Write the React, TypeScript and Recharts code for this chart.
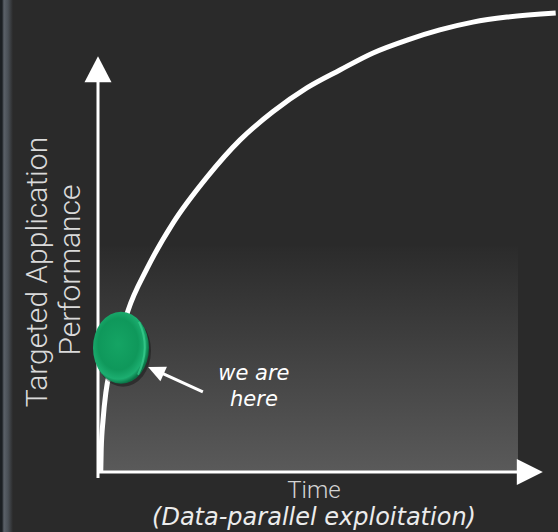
import { LineChart, Line, XAxis, YAxis, ReferenceLine, ReferenceDot, ReferenceArea } from 'recharts';

// time (x) and targeted application performance (y), both on a 0-100 scale
const timeValues = [0.6, 0.7, 1.1, 1.7, 4.1, 6.5, 10.7, 16.3, 23.7, 30.9, 38.0, 45.4, 52.6, 59.8, 67.2, 74.3, 81.5, 88.9, 99.5];
const perfValues = [0, 5, 11.3, 17.2, 26.5, 35.0, 44.3, 54.1, 64.1, 72.2, 78.3, 83.5, 87.4, 91.1, 93.9, 96.1, 97.8, 98.9, 99.8];

// "we are here" marker
const herePoint = { t: 5.0, perf: 27.0 };
const hereArrowTail = { t: 22.8, perf: 17.4 };
const hereArrowTip = { t: 10.9, perf: 22.8 };
const hereText = { t: 33.9, perf: 20.0 };
const hereLines = ['we are', 'here'];

const yLabelLines = ['Targeted Application', 'Performance'];
const xLabelLines = ['Time', '(Data-parallel exploitation)'];

// axis extents
const yAxisTop = 84.8;
const yArrowTip = 90.4;
const xAxisEnd = 91.1;
const xArrowTip = 96.7;
const shadeRight = 91.3;
const shadeTop = 49;

const data = timeValues.map((t, i) => ({ t, perf: perfValues[i] }));

const App = () => {
  const upArrow = (p: any) => (
    <polygon points={`${p.cx},${p.cy} ${p.cx - 13.5},${p.cy + 26} ${p.cx + 13.5},${p.cy + 26}`} fill="#ffffff" />
  );
  const rightArrow = (p: any) => (
    <polygon points={`${p.cx},${p.cy} ${p.cx - 26},${p.cy - 13} ${p.cx - 26},${p.cy + 13}`} fill="#ffffff" />
  );
  const smallArrow = (p: any) => (
    <polygon
      points={`${p.cx},${p.cy} ${p.cx - 17},${p.cy - 8} ${p.cx - 17},${p.cy + 8}`}
      fill="#ffffff"
      transform={`rotate(204 ${p.cx} ${p.cy})`}
    />
  );
  const greenDot = (p: any) => (
    <g>
      <defs>
        <radialGradient id="dotGrad" cx="45%" cy="45%" r="55%">
          <stop offset="0%" stopColor="#15a464" />
          <stop offset="65%" stopColor="#0f985b" />
          <stop offset="88%" stopColor="#1cae70" />
          <stop offset="100%" stopColor="#0a7446" />
        </radialGradient>
      </defs>
      <ellipse cx={p.cx + 2} cy={p.cy + 3} rx={28} ry={36} fill="#000000" opacity={0.35} />
      <ellipse cx={p.cx} cy={p.cy} rx={28} ry={36} fill="url(#dotGrad)" />
      <path
        d={`M ${p.cx + 18} ${p.cy - 26} Q ${p.cx + 30} ${p.cy} ${p.cx + 17} ${p.cy + 27}`}
        stroke="#3ccf90"
        strokeWidth={2}
        fill="none"
        opacity={0.7}
      />
    </g>
  );
  const hereLabel = (p: any) => (
    <g>
      {hereLines.map((line, i) => (
        <text
          key={line}
          x={p.cx}
          y={p.cy + i * 26}
          textAnchor="middle"
          fill="#ffffff"
          fontFamily="DejaVu Sans"
          fontStyle="italic"
          fontSize={21}
        >
          {line}
        </text>
      ))}
    </g>
  );
  const shade = (p: any) => (
    <g>
      <defs>
        <linearGradient id="shadeGrad" x1="0" y1="0" x2="0" y2="1">
          <stop offset="0%" stopColor="#2b2b2b" />
          <stop offset="100%" stopColor="#5a5a5a" />
        </linearGradient>
      </defs>
      <rect x={p.x} y={p.y} width={p.width} height={p.height} fill="url(#shadeGrad)" />
    </g>
  );
  const yLabel = (p: any) => {
    const vb = p.viewBox;
    const cy = vb.y + 260;
    return (
      <g fontFamily="Roboto" fontWeight={300} fontSize={30} fill="#dadada">
        <text x={47} y={cy} textAnchor="middle" transform={`rotate(-90 47 ${cy})`}>{yLabelLines[0]}</text>
        <text x={80} y={cy - 2} textAnchor="middle" transform={`rotate(-90 80 ${cy - 2})`}>{yLabelLines[1]}</text>
      </g>
    );
  };
  const xLabel = (p: any) => {
    const vb = p.viewBox;
    const cx = vb.x + 216;
    return (
      <g>
        <text x={cx} y={vb.y + 26} textAnchor="middle" fontFamily="Roboto" fontWeight={300} fontSize={24} fill="#d4d4d4">
          {xLabelLines[0]}
        </text>
        <text x={cx} y={vb.y + 53} textAnchor="middle" fontFamily="DejaVu Sans" fontStyle="italic" fontSize={24} fill="#ececec">
          {xLabelLines[1]}
        </text>
      </g>
    );
  };

  return (
    <div
      style={{
        position: 'absolute',
        left: 0,
        top: 0,
        width: 558,
        height: 532,
        background: 'linear-gradient(to right, #1c2024 0px, #1c2024 2px, #5b6169 4px, #4a5057 8px, #2a2a2a 13px, #2a2a2a 100%)',
      }}
    >
      <LineChart width={558} height={532} data={data} margin={{ top: 12, right: 0, bottom: 0, left: 0 }}>
        <XAxis
          dataKey="t"
          type="number"
          domain={[0, 100]}
          height={60}
          axisLine={false}
          tick={false}
          tickLine={false}
          label={{ content: xLabel }}
        />
        <YAxis
          type="number"
          domain={[0, 100]}
          width={98}
          axisLine={false}
          tick={false}
          tickLine={false}
          label={{ content: yLabel }}
        />
        <ReferenceArea x1={0} x2={shadeRight} y1={0} y2={shadeTop} shape={shade} />
        <Line
          type="monotone"
          dataKey="perf"
          stroke="#ffffff"
          strokeWidth={5}
          dot={false}
          isAnimationActive={false}
        />
        <ReferenceLine
          segment={[{ x: 0, y: -1.3 }, { x: 0, y: yAxisTop }]}
          stroke="#ffffff"
          strokeWidth={3}
          ifOverflow="visible"
        />
        <ReferenceLine
          segment={[{ x: 0, y: 0 }, { x: xAxisEnd, y: 0 }]}
          stroke="#ffffff"
          strokeWidth={3}
          ifOverflow="visible"
        />
        <ReferenceDot x={0} y={yArrowTip} shape={upArrow} ifOverflow="visible" />
        <ReferenceDot x={xArrowTip} y={0} shape={rightArrow} ifOverflow="visible" />
        <ReferenceDot x={herePoint.t} y={herePoint.perf} shape={greenDot} ifOverflow="visible" />
        <ReferenceLine
          segment={[
            { x: hereArrowTail.t, y: hereArrowTail.perf },
            { x: hereArrowTip.t + 2.5, y: hereArrowTip.perf - 1.1 },
          ]}
          stroke="#ffffff"
          strokeWidth={3}
          ifOverflow="visible"
        />
        <ReferenceDot x={hereArrowTip.t} y={hereArrowTip.perf} shape={smallArrow} ifOverflow="visible" />
        <ReferenceDot x={hereText.t} y={hereText.perf} shape={hereLabel} ifOverflow="visible" />
      </LineChart>
    </div>
  );
};

export default App;
